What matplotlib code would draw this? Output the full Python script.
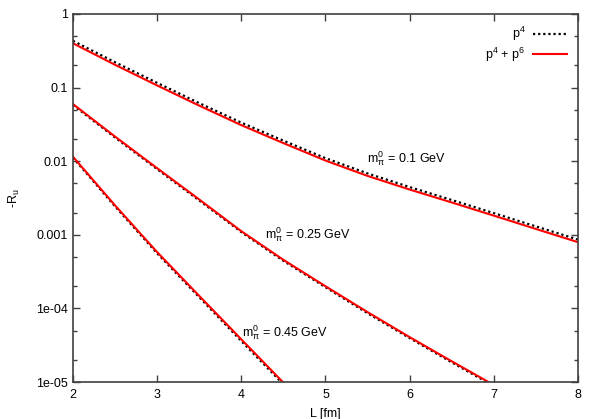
import matplotlib
matplotlib.use("Agg")
import matplotlib.pyplot as plt
from matplotlib.ticker import LogLocator, NullFormatter, FixedLocator

plt.rcParams['font.family'] = ['Liberation Sans', 'DejaVu Sans']
plt.rcParams['mathtext.fontset'] = 'custom'
plt.rcParams['mathtext.rm'] = 'Liberation Sans'
plt.rcParams['mathtext.it'] = 'Liberation Sans'
plt.rcParams['mathtext.default'] = 'regular'

FONT_SIZE = 9

# L values (fm)
L = [2.0, 2.5, 3.0, 3.5, 4.0, 4.5, 5.0, 5.5, 6.0, 6.5, 7.0, 7.5, 8.0]

# m_pi = 0.1 GeV
r_01_p4 = [0.432, 0.221, 0.116, 0.0615, 0.0334, 0.0190, 0.0110, 0.00682,
           0.00445, 0.00297, 0.00197, 0.00130, 0.000860]
r_01_p46 = [0.400, 0.204, 0.107, 0.0569, 0.0309, 0.0176, 0.0102, 0.00631,
            0.00412, 0.00275, 0.00182, 0.00120, 0.000794]

# m_pi = 0.25 GeV
L_025 = [2.0, 2.5, 3.0, 3.5, 4.0, 4.5, 5.0, 5.5, 6.0, 6.5, 7.0]
r_025_p4 = [0.0580, 0.0210, 0.00780, 0.00293, 0.00109, 4.43e-4, 1.94e-4,
            8.6e-5, 3.95e-5, 1.85e-5, 8.8e-6]
r_025_p46 = [0.0598, 0.0216, 0.00804, 0.00302, 0.00112, 4.57e-4, 2.00e-4,
             8.9e-5, 4.07e-5, 1.91e-5, 9.1e-6]

# m_pi = 0.45 GeV
L_045 = [2.0, 2.5, 3.0, 3.5, 4.0, 4.5]
r_045_p4 = [0.0112, 0.00243, 5.6e-4, 1.42e-4, 3.6e-5, 9.3e-6]
r_045_p46 = [0.0115, 0.00251, 5.82e-4, 1.48e-4, 3.80e-5, 9.8e-6]

fig = plt.figure(figsize=(5.98, 4.19), dpi=100)
ax = fig.add_axes([0.122, 0.0883, 0.8446, 0.8783])

dot_kw = dict(color='black', linestyle=(0, (1, 1.3)), linewidth=1.6)
red_kw = dict(color='#ff0000', linestyle='-', linewidth=1.5)

ax.plot(L, r_01_p4, label='p$^4$', **dot_kw)
ax.plot(L, r_01_p46, label='p$^4$ + p$^6$', **red_kw)
ax.plot(L_025, r_025_p4, **dot_kw)
ax.plot(L_025, r_025_p46, **red_kw)
ax.plot(L_045, r_045_p4, **dot_kw)
ax.plot(L_045, r_045_p46, **red_kw)

ax.set_yscale('log')
ax.set_xlim(2, 8)
ax.set_ylim(1e-5, 1)

ax.yaxis.set_major_locator(FixedLocator([1e-5, 1e-4, 1e-3, 1e-2, 1e-1, 1]))
ax.set_yticklabels(['1e-05', '1e-04', '0.001', '0.01', '0.1', '1'])
ax.yaxis.set_minor_locator(LogLocator(base=10, subs=(2.0, 5.0)))
ax.yaxis.set_minor_formatter(NullFormatter())
ax.set_xticks([2, 3, 4, 5, 6, 7, 8])

ax.tick_params(which='both', direction='in', top=True, right=True,
               labelsize=FONT_SIZE, colors='#404040', labelcolor='black')
ax.tick_params(which='major', length=5, width=1)
ax.tick_params(which='minor', length=3, width=1)
ax.tick_params(axis='x', pad=5)
for s in ax.spines.values():
    s.set_color('#404040')
    s.set_linewidth(1.2)

ax.set_xlabel('L [fm]', fontsize=FONT_SIZE, labelpad=5)
ax.set_ylabel('-R$_u$', fontsize=FONT_SIZE, labelpad=10)

ax.text(5.49, 0.0110, 'm$_\\pi^0$ = 0.1 GeV', fontsize=FONT_SIZE, va='center')
ax.text(4.28, 1.0e-3, 'm$_\\pi^0$ = 0.25 GeV', fontsize=FONT_SIZE, va='center')
ax.text(4.01, 4.7e-5, 'm$_\\pi^0$ = 0.45 GeV', fontsize=FONT_SIZE, va='center')

ax.legend(loc='upper right', frameon=False, markerfirst=False,
          fontsize=FONT_SIZE, handlelength=2.7, borderaxespad=0.5,
          borderpad=0.4, labelspacing=0.15, handletextpad=0.6)

fig.savefig('out.png', dpi=100)
